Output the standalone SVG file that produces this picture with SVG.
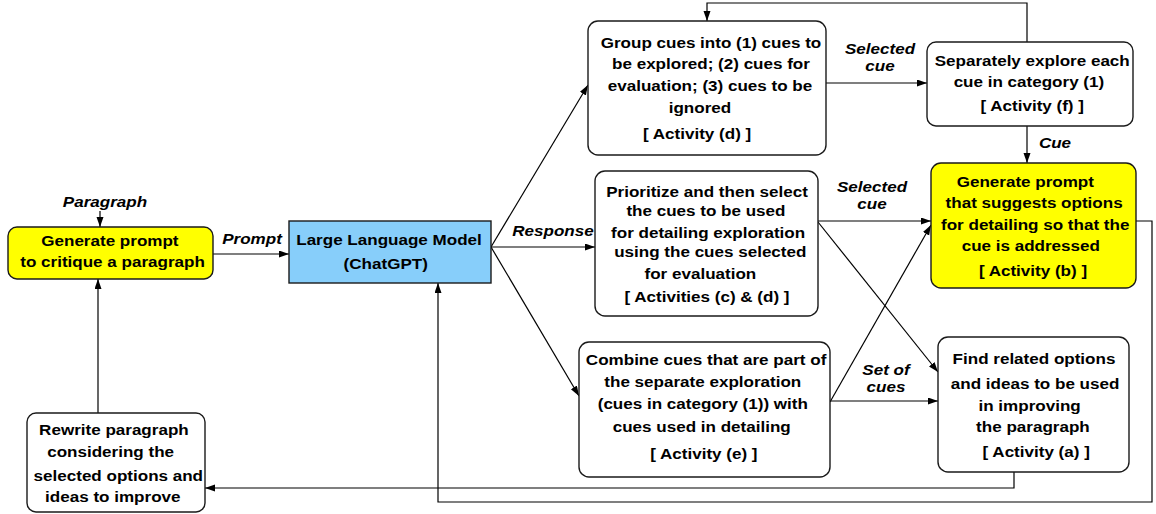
<svg xmlns="http://www.w3.org/2000/svg" width="1156" height="514" viewBox="0 0 1156 514">
<style>
.box{fill:#fff;stroke:#1a1a1a;stroke-width:1.4}
.yel{fill:#ffff00;stroke:#1a1a1a;stroke-width:1.4}
.blue{fill:#87cefa;stroke:#1a1a1a;stroke-width:1.4}
.t{font-family:"Liberation Sans",Arial,sans-serif;font-weight:bold;font-size:15.5px;fill:#000;text-anchor:middle}
.l{font-family:"Liberation Sans",Arial,sans-serif;font-weight:bold;font-style:italic;font-size:15.5px;fill:#000;text-anchor:middle}
.e{fill:none;stroke:#000;stroke-width:1.2}
</style>
<defs>
<marker id="ah" markerUnits="userSpaceOnUse" markerWidth="11" markerHeight="8" refX="10" refY="3.5" orient="auto">
<path d="M0,0 L10,3.5 L0,7 z" fill="#000"/>
</marker>
</defs>

<g id="connectors">
<path class="e" d="M100,211 L100,227" marker-end="url(#ah)"/>
<path class="e" d="M213,254 L289,254" marker-end="url(#ah)"/>
<path class="e" d="M491,247 L588,85" marker-end="url(#ah)"/>
<path class="e" d="M491,247 L595,247" marker-end="url(#ah)"/>
<path class="e" d="M491,247 L579,396" marker-end="url(#ah)"/>
<path class="e" d="M826,83 L927,83" marker-end="url(#ah)"/>
<path class="e" d="M1027,42 L1027,3 L707,3 L707,21" marker-end="url(#ah)"/>
<path class="e" d="M1027,126 L1027,163" marker-end="url(#ah)"/>
<path class="e" d="M818,221 L931,221" marker-end="url(#ah)"/>
<path class="e" d="M818,222 L938,372" marker-end="url(#ah)"/>
<path class="e" d="M830,402 L931,225" marker-end="url(#ah)"/>
<path class="e" d="M830,401 L938,401" marker-end="url(#ah)"/>
<path class="e" d="M1136,221 L1152,221 L1152,502 L438,502 L438,283" marker-end="url(#ah)"/>
<path class="e" d="M1014,472 L1014,488 L205,488" marker-end="url(#ah)"/>
<path class="e" d="M98,413 L98,279" marker-end="url(#ah)"/>
</g>

<g id="labels">
<text class="l" transform="translate(105 0) scale(1.1 1)"><tspan x="0" y="207">Paragraph</tspan></text>
<text class="l" transform="translate(252 0) scale(1.1 1)"><tspan x="0" y="244">Prompt</tspan></text>
<text class="l" transform="translate(553 0) scale(1.1 1)"><tspan x="0" y="236">Response</tspan></text>
<text class="l" transform="translate(880 0) scale(1.1 1)"><tspan x="0" y="54">Selected</tspan><tspan x="0" y="71">cue</tspan></text>
<text class="l" transform="translate(1055 0) scale(1.1 1)"><tspan x="0" y="148">Cue</tspan></text>
<text class="l" transform="translate(872 0) scale(1.1 1)"><tspan x="0" y="192">Selected</tspan><tspan x="0" y="209">cue</tspan></text>
<text class="l" transform="translate(886 0) scale(1.1 1)"><tspan x="0" y="375">Set of</tspan><tspan x="0" y="392">cues</tspan></text>
</g>

<g id="gen-critique">
<rect class="yel" x="8" y="227" width="205" height="52" rx="9"/>
<text class="t" transform="translate(111 0) scale(1.1 1)"><tspan x="-1" y="246">Generate prompt</tspan><tspan x="1.4" y="267">to critique a paragraph</tspan></text>
</g>

<g id="llm">
<rect class="blue" x="289" y="221" width="202" height="62"/>
<text class="t" transform="translate(389 0) scale(1.1 1)"><tspan x="0" y="245">Large Language Model</tspan><tspan x="-3" y="269">(ChatGPT)</tspan></text>
</g>

<g id="rewrite">
<rect class="box" x="27" y="413" width="178" height="99" rx="9"/>
<text class="t" transform="translate(115 0) scale(1.1 1)"><tspan x="-1" y="435">Rewrite paragraph</tspan><tspan x="-4" y="457">considering the</tspan><tspan x="3" y="481">selected options and</tspan><tspan x="-2" y="502">ideas to improve</tspan></text>
</g>

<g id="group-cues">
<rect class="box" x="588" y="21" width="238" height="134" rx="10"/>
<text class="t" transform="translate(707 0) scale(1.1 1)"><tspan x="3.6" y="48">Group cues into (1) cues to</tspan><tspan x="3.6" y="69">be explored; (2) cues for</tspan><tspan x="2.7" y="91">evaluation; (3) cues to be</tspan><tspan x="-6.4" y="113">ignored</tspan><tspan x="-9" y="139">[ Activity (d) ]</tspan></text>
</g>

<g id="separately">
<rect class="box" x="927" y="42" width="206" height="84" rx="9"/>
<text class="t" transform="translate(1030 0) scale(1.1 1)"><tspan x="2" y="66">Separately explore each</tspan><tspan x="-1" y="87">cue in category (1)</tspan><tspan x="2" y="111">[ Activity (f) ]</tspan></text>
</g>

<g id="prioritize">
<rect class="box" x="595" y="171" width="223" height="145" rx="10"/>
<text class="t" transform="translate(707 0) scale(1.1 1)"><tspan x="0" y="197">Prioritize and then select</tspan><tspan x="-1" y="216">the cues to be used</tspan><tspan x="1" y="238">for detailing exploration</tspan><tspan x="3" y="257">using the cues selected</tspan><tspan x="-6" y="279">for evaluation</tspan><tspan x="0" y="302">[ Activities (c) &amp; (d) ]</tspan></text>
</g>

<g id="gen-options">
<rect class="yel" x="931" y="163" width="205" height="125" rx="10"/>
<text class="t" transform="translate(1033 0) scale(1.1 1)"><tspan x="-7" y="187">Generate prompt</tspan><tspan x="1" y="208">that suggests options</tspan><tspan x="2" y="230">for detailing so that the</tspan><tspan x="-2" y="251">cue is addressed</tspan><tspan x="0" y="276">[ Activity (b) ]</tspan></text>
</g>

<g id="combine">
<rect class="box" x="579" y="342" width="251" height="135" rx="10"/>
<text class="t" transform="translate(705 0) scale(1.1 1)"><tspan x="1" y="365">Combine cues that are part of</tspan><tspan x="-2" y="387">the separate exploration</tspan><tspan x="-2" y="409">(cues in category (1)) with</tspan><tspan x="-3" y="432">cues used in detailing</tspan><tspan x="-1" y="459">[ Activity (e) ]</tspan></text>
</g>

<g id="find">
<rect class="box" x="938" y="337" width="191" height="135" rx="10"/>
<text class="t" transform="translate(1034 0) scale(1.1 1)"><tspan x="0" y="364">Find related options</tspan><tspan x="1" y="389">and ideas to be used</tspan><tspan x="-4" y="411">in improving</tspan><tspan x="-1" y="432">the paragraph</tspan><tspan x="2" y="457">[ Activity (a) ]</tspan></text>
</g>
</svg>
